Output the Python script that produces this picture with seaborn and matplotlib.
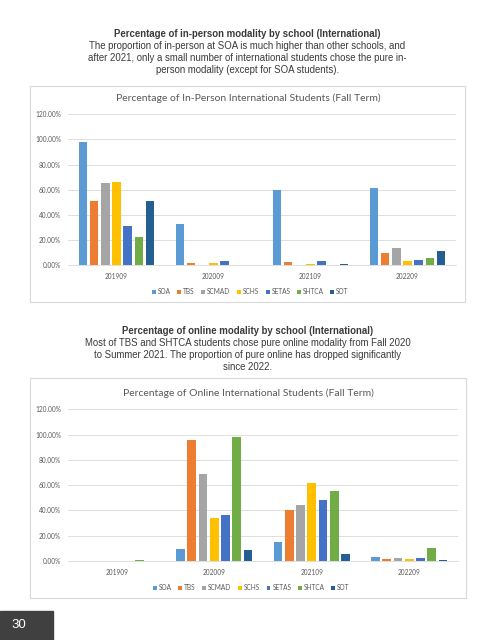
import seaborn as sns
import pandas as pd
import matplotlib.pyplot as plt
from matplotlib.patches import Rectangle
from matplotlib.ticker import PercentFormatter

terms = ['201909', '202009', '202109', '202209']
schools = ['SOA', 'TBS', 'SCMAD', 'SCHS', 'SETAS', 'SHTCA', 'SOT']
colors = ['#5B9BD5', '#ED7D31', '#A5A5A5', '#FFC000', '#4472C4', '#70AD47', '#255E91']

# share of students per school, one list per school over the four fall terms
in_person = {
    'SOA':   [0.982, 0.324, 0.600, 0.616],
    'TBS':   [0.510, 0.013, 0.024, 0.096],
    'SCMAD': [0.650, 0.000, 0.000, 0.133],
    'SCHS':  [0.661, 0.012, 0.005, 0.029],
    'SETAS': [0.311, 0.035, 0.032, 0.037],
    'SHTCA': [0.223, 0.000, 0.000, 0.056],
    'SOT':   [0.510, 0.000, 0.005, 0.112],
}
online = {
    'SOA':   [0.000, 0.098, 0.148, 0.032],
    'TBS':   [0.000, 0.957, 0.404, 0.016],
    'SCMAD': [0.000, 0.688, 0.446, 0.026],
    'SCHS':  [0.000, 0.338, 0.617, 0.016],
    'SETAS': [0.000, 0.367, 0.485, 0.021],
    'SHTCA': [0.008, 0.981, 0.551, 0.103],
    'SOT':   [0.000, 0.084, 0.055, 0.005],
}

header1 = ['Percentage of in-person modality by school (International)',
           'The proportion of in-person at SOA is much higher than other schools, and',
           'after 2021, only a small number of international students chose the pure in-',
           'person modality (except for SOA students).']
header2 = ['Percentage of online modality by school (International)',
           'Most of TBS and SHTCA students chose pure online modality from Fall 2020',
           'to Summer 2021. The proportion of pure online has dropped significantly',
           'since 2022.']

W, H = 495, 640
fig = plt.figure(figsize=(W / 100, H / 100), dpi=100)


def fx(x):
    return x / W


def fy(y):
    return 1 - y / H


def header(lines, y0):
    for i, line in enumerate(lines):
        fig.text(fx(247.5), fy(y0 + i * 12), line, ha='center', va='center',
                 fontsize=6.9, color='#3a3a3a', family='Liberation Sans',
                 fontweight='bold' if i == 0 else 'normal')


def chart(data, title, box, plot, title_y):
    bx0, by0, bx1, by1 = box
    fig.patches.append(Rectangle((fx(bx0), fy(by1)), fx(bx1 - bx0), (by1 - by0) / H,
                                 transform=fig.transFigure, fill=False,
                                 edgecolor='#D9D9D9', linewidth=0.8))
    px0, py0, px1, py1 = plot
    ax = fig.add_axes([fx(px0), fy(py1), fx(px1 - px0), (py1 - py0) / H])
    rows = [{'Term': t, 'School': s, 'Pct': data[s][i]}
            for s in schools for i, t in enumerate(terms)]
    df = pd.DataFrame(rows)
    sns.barplot(data=df, x='Term', y='Pct', hue='School', order=terms,
                hue_order=schools, palette=colors, width=0.81, gap=0.23,
                saturation=1, ax=ax)
    ax.set_ylim(0, 1.2)
    ax.set_yticks([0, 0.2, 0.4, 0.6, 0.8, 1.0, 1.2])
    ax.yaxis.set_major_formatter(PercentFormatter(1, decimals=2))
    ax.grid(axis='y', color='#D9D9D9', linewidth=0.6)
    ax.set_axisbelow(True)
    for side in ['top', 'right', 'left']:
        ax.spines[side].set_visible(False)
    ax.spines['bottom'].set_color('#D9D9D9')
    ax.spines['bottom'].set_linewidth(0.6)
    ax.tick_params(length=0, labelsize=4.7, labelcolor='#595959', pad=6)
    ax.tick_params(axis='y', pad=5)
    for lab in ax.get_xticklabels() + ax.get_yticklabels():
        lab.set_family('Lato')
    ax.set_xlabel('')
    ax.set_ylabel('')
    fig.text(fx(248), fy(title_y), title, ha='center', va='center',
             fontsize=7.5, color='#595959', family='Lato')
    sns.move_legend(ax, 'upper center', bbox_to_anchor=(0.47, -0.115), ncol=7,
                    frameon=False, title=None, fontsize=4.7, handlelength=0.6,
                    handleheight=0.6, handletextpad=0.3, columnspacing=1.0)
    for t in ax.get_legend().get_texts():
        t.set_color('#595959')
        t.set_family('Lato')
    return ax


header(header1, 34)
chart(in_person, 'Percentage of In-Person International Students (Fall Term)',
      (29.5, 86, 465, 302), (68, 114.3, 456, 265), 98)

header(header2, 331)
chart(online, 'Percentage of Online International Students (Fall Term)',
      (29.5, 378, 466, 598), (68, 409.3, 458, 561), 393)

fig.patches.append(Rectangle((0, 0), fx(53), 29 / H, transform=fig.transFigure,
                             color='#404040'))
fig.text(fx(19), fy(625), '30', color='white', fontsize=9.5, va='center',
         ha='center', family='Liberation Sans')

fig.savefig('out.png', dpi=100)
